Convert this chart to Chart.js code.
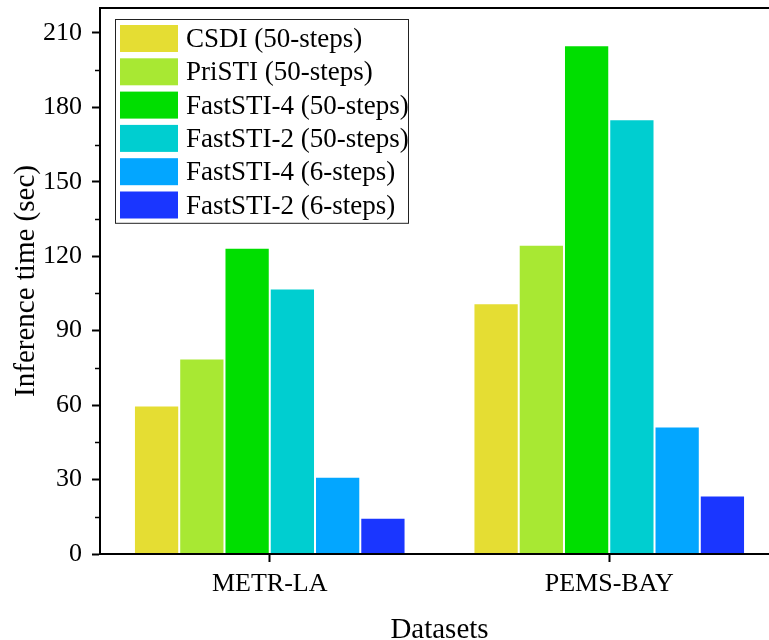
<!DOCTYPE html>
<html lang="en">
<head>
    <meta charset="UTF-8">
    <title>Inference time</title>
    <script src="https://cdn.jsdelivr.net/npm/chart.js"></script>
    <style>
        html, body {
            margin: 0;
            padding: 0;
            background: #fff;
            overflow: hidden;
        }
        #wrap {
            width: 800px;
            height: 652px;
        }
    </style>
</head>
<body>
    <div id="wrap"><canvas id="timeChart" width="800" height="652"></canvas></div>
    <script>
        const datasetNames = ['METR-LA', 'PEMS-BAY'];
        const methods = [
            'CSDI (50-steps)',
            'PriSTI (50-steps)',
            'FastSTI-4 (50-steps)',
            'FastSTI-2 (50-steps)',
            'FastSTI-4 (6-steps)',
            'FastSTI-2 (6-steps)'
        ];
        const csdi50 = [59.8, 101];
        const pristi50 = [78.8, 124.6];
        const fast4_50 = [123.4, 205];
        const fast2_50 = [107, 175.2];
        const fast4_6 = [31.1, 51.4];
        const fast2_6 = [14.6, 23.6];
        const yTicks = [0, 30, 60, 90, 120, 150, 180, 210];
        const colors = ['#e5dd33', '#a8e833', '#00de00', '#00ced0', '#03a6ff', '#1a36ff'];

        const serif = '"Liberation Serif", "Times New Roman", serif';
        const values = [csdi50, pristi50, fast4_50, fast2_50, fast4_6, fast2_6];

        // frame around the plot + minor ticks on the y axis
        const framePlugin = {
            id: 'frame',
            afterDraw(chart) {
                const ctx = chart.ctx;
                const a = chart.chartArea;
                const y = chart.scales.y;
                ctx.save();
                ctx.strokeStyle = '#000';
                ctx.lineWidth = 2;
                ctx.strokeRect(a.left, a.top, a.right - a.left, a.bottom - a.top);
                ctx.lineWidth = 1.5;
                for (let i = 0; i < yTicks.length; i++) {
                    const py = Math.round(y.getPixelForValue(yTicks[i] + 15)) + 0.5;
                    ctx.beginPath();
                    ctx.moveTo(a.left - 5, py);
                    ctx.lineTo(a.left, py);
                    ctx.stroke();
                }
                ctx.restore();
            }
        };

        // legend box in the top left corner of the plot
        const boxLegend = {
            id: 'boxLegend',
            afterDraw(chart) {
                const ctx = chart.ctx;
                const a = chart.chartArea;
                const x0 = a.left + 15, y0 = a.top + 11;
                const rowH = 33.3, w = 293;
                ctx.save();
                ctx.strokeStyle = '#222';
                ctx.lineWidth = 1;
                ctx.strokeRect(x0 + 0.5, y0 + 0.5, w, rowH * methods.length + 4);
                ctx.font = '27px ' + serif;
                ctx.textBaseline = 'middle';
                chart.data.datasets.forEach((ds, i) => {
                    const ry = y0 + 5 + i * rowH;
                    ctx.fillStyle = ds.backgroundColor;
                    ctx.fillRect(x0 + 5, ry + 1, 58, 27);
                    ctx.fillStyle = '#000';
                    ctx.fillText(ds.label, x0 + 71, ry + 16);
                });
                ctx.restore();
            }
        };

        new Chart(document.getElementById('timeChart'), {
            type: 'bar',
            data: {
                labels: datasetNames,
                datasets: methods.map((m, i) => ({
                    label: m,
                    data: values[i],
                    backgroundColor: colors[i],
                    borderColor: '#ffffff',
                    borderWidth: 1,
                    barPercentage: 1,
                    categoryPercentage: 0.8
                }))
            },
            options: {
                responsive: false,
                animation: false,
                layout: { padding: { top: 8, right: 21, left: 0, bottom: 0 } },
                plugins: {
                    legend: { display: false },
                    tooltip: { enabled: false }
                },
                scales: {
                    x: {
                        afterFit(scale) { scale.height = 98; },
                        grid: {
                            offset: false,
                            drawOnChartArea: false,
                            tickLength: 8,
                            tickWidth: 2,
                            tickColor: '#000'
                        },
                        border: { color: '#000', width: 2 },
                        ticks: {
                            color: '#000',
                            padding: 7,
                            font: { family: serif, size: 26 }
                        },
                        title: {
                            display: true,
                            text: 'Datasets',
                            color: '#000',
                            padding: { top: 16 },
                            font: { family: serif, size: 29 }
                        }
                    },
                    y: {
                        min: 0,
                        max: 220,
                        afterFit(scale) {
                            scale.width = 100;
                            scale.paddingTop = 0;
                            scale.paddingBottom = 0;
                        },
                        afterBuildTicks(scale) {
                            scale.ticks = yTicks.map(v => ({ value: v }));
                        },
                        grid: {
                            drawOnChartArea: false,
                            tickLength: 8,
                            tickWidth: 2,
                            tickColor: '#000'
                        },
                        border: { color: '#000', width: 2 },
                        ticks: {
                            color: '#000',
                            padding: 10,
                            font: { family: serif, size: 26 }
                        },
                        title: {
                            display: true,
                            text: 'Inference time (sec)',
                            color: '#000',
                            padding: { top: 9 },
                            font: { family: serif, size: 29 }
                        }
                    }
                }
            },
            plugins: [framePlugin, boxLegend]
        });
    </script>
</body>
</html>
